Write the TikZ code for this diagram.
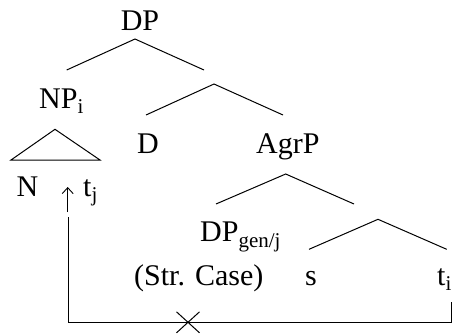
\documentclass[tikz,border=0pt]{standalone}
\usepackage{fontspec}
\setmainfont{Liberation Serif}
\usetikzlibrary{arrows.meta}
\begin{document}
\begin{tikzpicture}[x=1pt,y=-1pt,
  lbl/.style={inner sep=0pt,anchor=base west,font=\fontsize{30}{32}\selectfont},
  branch/.style={line width=1pt},
  link/.style={line width=1pt}]
\useasboundingbox (0,0) rectangle (462,335);
% labels
\node[lbl,anchor=base] (dp) at (140,30) {DP};
\node[lbl] (np) at (39,108) {NP\textsubscript{i}};
\node[lbl] (n) at (16.5,196) {N};
\node[lbl] (tj) at (83,196) {t\textsubscript{j}};
\node[lbl] (d) at (137,153) {D};
\node[lbl] (agrp) at (256,153) {AgrP};
\node[lbl] (dpgen) at (200,241.7) {DP\textsubscript{gen/j}};
\node[lbl] (case) at (134,285) {(Str. Case)};
\node[lbl] (s) at (305,285) {s};
\node[lbl] (ti) at (437,285) {t\textsubscript{i}};
% branch points
\coordinate (a1) at (135,39);   \coordinate (l1) at (66.7,70);  \coordinate (r1) at (204,70);
\coordinate (a2) at (214,84);   \coordinate (l2) at (146,115);  \coordinate (r2) at (283,115);
\coordinate (a3) at (285.7,174);\coordinate (l3) at (216,204);  \coordinate (r3) at (354,204);
\coordinate (a4) at (378,219.3);\coordinate (l4) at (309,249.3);\coordinate (r4) at (446.7,249.3);
\coordinate (ta) at (55,129.3); \coordinate (tl) at (11,160);   \coordinate (tr) at (100,160);
\draw[branch] (l1) -- (a1) -- (r1);
\draw[branch] (l2) -- (a2) -- (r2);
\draw[branch] (l3) -- (a3) -- (r3);
\draw[branch] (l4) -- (a4) -- (r4);
\draw[branch] (tl) -- (ta) -- (tr) -- cycle;
% movement arrow and blocked path
\coordinate (arrbot) at (67.7,212);
\coordinate (arrtop) at (67.7,187);
\draw[link,line width=0.9pt,-{Straight Barb[length=6pt,width=11pt]}] (arrbot) -- (arrtop);
\coordinate (tibot) at (451.7,302);
\coordinate (br) at (451.7,322.3);
\coordinate (bl) at (68.3,322.3);
\coordinate (bltop) at (68.3,217);
\draw[link] (tibot) -- (br) -- (bl) -- (bltop);
\coordinate (x) at (188,322.3);
\draw[link] ([shift={(-11.5,-10.5)}]x) -- ([shift={(11.5,10.5)}]x);
\draw[link] ([shift={(-11.5,10.5)}]x) -- ([shift={(11.5,-10.5)}]x);
\end{tikzpicture}
\end{document}
